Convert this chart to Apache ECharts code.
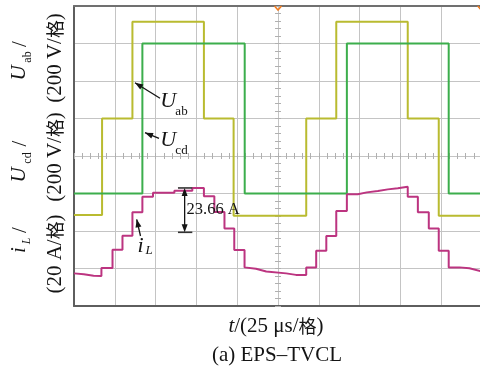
<!DOCTYPE html>
<html>
<head>
<meta charset="utf-8">
<script src="https://cdn.jsdelivr.net/npm/echarts@6/dist/echarts.min.js"></script>
<style>
  html, body { margin: 0; padding: 0; background: #fff; }
  #chart { width: 480px; height: 372px; }
</style>
</head>
<body>
<div id="chart"></div>
<script>
// Time base: 25 µs per division, 10 divisions on screen.
const timeTicks = [0, 25, 50, 75, 100, 125, 150, 175, 200, 225, 250];

// U_ab, bridge output voltage (V), vertices of the stepped waveform
const uabTime = [0, 17.2, 17.2, 35.8, 35.8, 79.6, 79.6, 97.8, 97.8, 142.3, 142.3, 160.7, 160.7, 204.5, 204.5, 223.5, 223.5, 250];
const uabVolt = [-515, -515, 0, 0, 516, 516, 0, 0, -518, -518, 0, 0, 516, 516, 0, 0, -518, -518];

// U_cd, secondary bridge voltage (V)
const ucdTime = [0, 41.9, 41.9, 104.6, 104.6, 167.2, 167.2, 229.6, 229.6, 250];
const ucdVolt = [-400, -400, 400, 400, -400, -400, 400, 400, -400, -400];

// i_L, inductor current (A)
const iLTime = [0, 6, 12, 16.8, 16.8, 23.6, 23.6, 29.7, 29.7, 35.8, 35.8, 41.9, 41.9, 48.4, 48.4,
  61.5, 61.5, 72.5, 72.5, 79.6, 79.6, 86.0, 86.0, 92.2, 92.2, 98.2, 98.2, 104.5, 104.5,
  111.5, 117.8, 130.0, 136.0, 142.3, 142.3, 148.4, 148.4, 154.6, 154.6, 160.7, 160.7, 167.2, 167.2,
  173.9, 173.9, 179.4, 179.4, 186.2, 186.2, 192.3, 192.3, 198.4, 198.4, 204.5, 204.5, 210.7, 210.7,
  217.4, 217.4, 223.5, 223.5, 229.6, 229.6, 236.2, 242.3, 250];
const iLAmp = [-21.9, -22.4, -23.2, -23.3, -19.0, -19.0, -9.3, -9.3, -1.8, -1.8, 10.7, 10.7, 19.0, 19.0, 21.1,
  21.1, 22.2, 22.2, 23.66, 23.66, 19.2, 19.2, 10.8, 10.8, 2.1, 2.1, -9.4, -9.4, -18.7,
  -19.4, -20.9, -21.9, -22.7, -22.7, -18.7, -18.7, -9.8, -9.8, -2.0, -2.0, 11.4, 11.4, 20.3,
  20.3, 21.3, 21.3, 22.0, 22.0, 22.9, 22.9, 23.5, 23.5, 24.3, 24.3, 19.0, 19.0, 10.7,
  10.7, 2.1, 2.1, -9.8, -9.8, -18.7, -18.7, -19.2, -20.9, -20.7];

// Current amplitude marked on the first half cycle
const peakCurrent = 23.66;

const serif = '"Liberation Serif", "Times New Roman", "Noto Sans CJK SC", serif';
const cjk = '"Noto Sans CJK SC", sans-serif';
const gridGrey = '#c4c4c4';
const frameGrey = '#5e5e5e';
const ink = '#141414';

const zip = (xs, ys) => xs.map((x, i) => [x, ys[i]]);

const chart = echarts.init(document.getElementById('chart'), null, { renderer: 'canvas' });

chart.setOption({
  animation: false,
  backgroundColor: '#ffffff',
  grid: { left: 74, top: 6, width: 408, height: 300, outerBoundsMode: 'none', containLabel: false },
  xAxis: [
    { // time axis with the major divisions
      type: 'value', min: timeTicks[0], max: timeTicks[timeTicks.length - 1], interval: 25,
      axisLine: { show: true, onZero: false, lineStyle: { color: frameGrey, width: 2 } },
      axisTick: { show: false }, axisLabel: { show: false },
      splitLine: { show: true, lineStyle: { color: gridGrey, width: 1 } }
    },
    { // top frame
      type: 'value', position: 'top', min: 0, max: 250,
      axisLine: { show: true, onZero: false, lineStyle: { color: '#707070', width: 2 } },
      axisTick: { show: false }, axisLabel: { show: false }, splitLine: { show: false }
    },
    { // fine ticks on the horizontal centre line
      type: 'value', position: 'bottom', offset: -147, min: 0, max: 250, interval: 5,
      axisLine: { show: false, onZero: false },
      axisTick: { show: true, inside: true, length: 6, lineStyle: { color: '#b0b0b0', width: 1 } },
      axisLabel: { show: false }, splitLine: { show: false }
    }
  ],
  yAxis: [
    { // voltage, 200 V per division
      type: 'value', min: -1000, max: 600, interval: 200,
      axisLine: { show: true, onZero: false, lineStyle: { color: frameGrey, width: 2 } },
      axisTick: { show: false }, axisLabel: { show: false },
      splitLine: { show: true, lineStyle: { color: gridGrey, width: 1 } }
    },
    { // current, 20 A per division
      type: 'value', min: -39.3, max: 120.7, show: false,
      splitLine: { show: false }
    },
    { // fine ticks on the vertical centre line
      type: 'value', position: 'left', offset: -201, min: -1000, max: 600, interval: 40,
      axisLine: { show: false, onZero: false },
      axisTick: { show: true, inside: true, length: 6, lineStyle: { color: '#b0b0b0', width: 1 } },
      axisLabel: { show: false }, splitLine: { show: false }
    }
  ],
  series: [
    {
      name: 'Uab', type: 'line', xAxisIndex: 0, yAxisIndex: 0,
      data: zip(uabTime, uabVolt), showSymbol: false, symbol: 'none',
      lineStyle: { color: '#b9bb30', width: 2 }, z: 3
    },
    {
      name: 'Ucd', type: 'line', xAxisIndex: 0, yAxisIndex: 0,
      data: zip(ucdTime, ucdVolt), showSymbol: false, symbol: 'none',
      lineStyle: { color: '#3cae4c', width: 2 }, z: 4
    },
    {
      name: 'iL', type: 'line', xAxisIndex: 0, yAxisIndex: 1,
      data: zip(iLTime, iLAmp), showSymbol: false, symbol: 'none',
      lineStyle: { color: '#bc3480', width: 2 }, z: 5
    }
  ]
});

// ---- annotations ----
function arrowHead(tipX, tipY, fromX, fromY, len, half) {
  const dx = tipX - fromX, dy = tipY - fromY;
  const d = Math.hypot(dx, dy);
  const ux = dx / d, uy = dy / d;
  const bx = tipX - ux * len, by = tipY - uy * len;
  return {
    type: 'polygon', z: 20,
    shape: { points: [[tipX, tipY], [bx - uy * half, by + ux * half], [bx + uy * half, by - ux * half]] },
    style: { fill: ink }
  };
}
function callout(x1, y1, x2, y2) {
  return [
    { type: 'line', z: 20, shape: { x1, y1, x2, y2 }, style: { stroke: ink, lineWidth: 1.3 } },
    arrowHead(x2, y2, x1, y1, 8, 3)
  ];
}
const richBase = {
  it: { fontStyle: 'italic', fontSize: 21, fontFamily: serif, fill: ink },
  c: { fontSize: 18, fontFamily: cjk, fontWeight: 'normal', fill: ink }
};
function txt(text, x, y, size, opts = {}) {
  return {
    type: 'text', z: 21, x, y, rotation: opts.rot || 0,
    style: {
      text, fill: ink, fontSize: size, fontFamily: serif,
      fontStyle: opts.italic ? 'italic' : 'normal',
      align: opts.align || 'center', verticalAlign: 'middle',
      rich: opts.rich
    }
  };
}
const up = Math.PI / 2;

const g = [];

// axis captions (rotated)
g.push(txt('U', 19.5, 73, 21, { rot: up, italic: true }));
g.push(txt('ab', 27.5, 57, 12, { rot: up }));
g.push(txt('/', 20, 44, 21, { rot: up }));
g.push(txt('U', 19.5, 175, 21, { rot: up, italic: true }));
g.push(txt('cd', 27.5, 158, 12, { rot: up }));
g.push(txt('/', 20, 143.5, 21, { rot: up }));
g.push(txt('i', 19, 250, 21, { rot: up, italic: true }));
g.push(txt('L', 27, 241, 12, { rot: up, italic: true }));
g.push(txt('/', 20, 230, 21, { rot: up }));
g.push(txt('(200 V/{c|格})', 55, 58, 21, { rot: up, rich: richBase }));
g.push(txt('(200 V/{c|格})', 55, 157, 21, { rot: up, rich: richBase }));
g.push(txt('(20 A/{c|格})', 55, 254, 21, { rot: up, rich: richBase }));

// bottom captions
g.push(txt('{it|t}/(25 μs/{c|格})', 276, 326, 21, { rich: richBase }));
g.push(txt('(a) EPS–TVCL', 277, 355, 21));

// trace call-outs
g.push(...callout(160, 98.3, 135, 82.7));
g.push(txt('U', 168.3, 100.8, 22, { italic: true }));
g.push(txt('ab', 181.5, 112, 13));
g.push(...callout(159, 138.3, 145, 132.7));
g.push(txt('U', 168.3, 140.3, 22, { italic: true }));
g.push(txt('cd', 181.5, 150.5, 13));
g.push(...callout(140.5, 236, 136.7, 219.3));
g.push(txt('i', 140.5, 246, 22, { italic: true }));
g.push(txt('L', 149, 251, 13, { italic: true }));

// current amplitude dimension, drawn from the iL axis
const dimT = 67.8, capT0 = 63.7, capT1 = 72.5;
const px = v => chart.convertToPixel({ seriesIndex: 2 }, v);
const pTop = px([dimT, peakCurrent]);
const pBot = px([dimT, 0]);
const cTopL = px([capT0, peakCurrent]);
const cTopR = px([capT1, peakCurrent]);
const cBotL = px([capT0, 0]);
const cBotR = px([capT1, 0]);
g.push({ type: 'line', z: 20, shape: { x1: cTopL[0], y1: cTopL[1], x2: cTopR[0], y2: cTopR[1] }, style: { stroke: '#333', lineWidth: 1.6 } });
g.push({ type: 'line', z: 20, shape: { x1: cBotL[0], y1: cBotL[1], x2: cBotR[0], y2: cBotR[1] }, style: { stroke: '#333', lineWidth: 1.6 } });
g.push({ type: 'line', z: 20, shape: { x1: pTop[0], y1: pTop[1] + 6, x2: pBot[0], y2: pBot[1] - 6 }, style: { stroke: ink, lineWidth: 1.3 } });
g.push(arrowHead(pTop[0], pTop[1], pTop[0], pTop[1] + 20, 8, 3));
g.push(arrowHead(pBot[0], pBot[1], pBot[0], pBot[1] - 20, 8, 3));
const lbl = px([69, peakCurrent / 2]);
g.push(txt(peakCurrent.toFixed(2) + ' A', lbl[0], lbl[1], 16.5, { align: 'left' }));

// trigger markers on the top frame
const trig = [chart.convertToPixel({ xAxisIndex: 0, yAxisIndex: 0 }, [125, 600]),
              chart.convertToPixel({ xAxisIndex: 0, yAxisIndex: 0 }, [249.5, 600])];
trig.forEach(p => g.push({
  type: 'polyline', z: 22,
  shape: { points: [[p[0] - 3.5, p[1]], [p[0], p[1] + 4], [p[0] + 3.5, p[1]]] },
  style: { stroke: '#f07a1e', lineWidth: 1.5, fill: null }
}));

chart.setOption({ graphic: g });
</script>
</body>
</html>
